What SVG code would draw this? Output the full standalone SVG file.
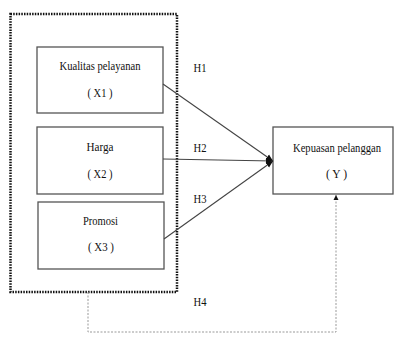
<svg xmlns="http://www.w3.org/2000/svg" width="395" height="338" viewBox="0 0 395 338">
<style>
.box{fill:#fff;stroke:#555;stroke-width:1.3}
.t{font-family:"Liberation Serif","Times New Roman","DejaVu Serif",serif;font-size:12px;fill:#111;text-anchor:middle}
.ln{stroke:#444;stroke-width:1.1;fill:none}
.dash{stroke:#999;stroke-width:1;stroke-dasharray:2 1.5;fill:none}
</style>
<defs>
<marker id="ah" markerWidth="8" markerHeight="8" refX="7" refY="4" orient="auto" markerUnits="userSpaceOnUse">
<path d="M0,1 L7,4 L0,7 Z" fill="#111"/>
</marker>
<marker id="ah2" markerWidth="6" markerHeight="6" refX="5" refY="3" orient="auto" markerUnits="userSpaceOnUse">
<path d="M0,0.5 L5,3 L0,5.5 Z" fill="#111"/>
</marker>
</defs>
<g id="group-x">
<rect x="10.5" y="14" width="166.5" height="278" fill="none" stroke="#111" stroke-width="2.5" stroke-dasharray="1.5 1.2"/>
</g>
<g id="x1">
<rect class="box" x="37" y="47" width="126" height="66"/>
<text class="t" x="100" y="69.5" textLength="81" lengthAdjust="spacingAndGlyphs">Kualitas pelayanan</text>
<text class="t" x="100" y="96.5" textLength="25" lengthAdjust="spacingAndGlyphs">( X1 )</text>
</g>
<g id="x2">
<rect class="box" x="37" y="127" width="126" height="67"/>
<text class="t" x="100" y="150.5" textLength="27" lengthAdjust="spacingAndGlyphs">Harga</text>
<text class="t" x="100" y="177.5" textLength="25" lengthAdjust="spacingAndGlyphs">( X2 )</text>
</g>
<g id="x3">
<rect class="box" x="38" y="202" width="126" height="67"/>
<text class="t" x="100.5" y="224.5" textLength="35" lengthAdjust="spacingAndGlyphs">Promosi</text>
<text class="t" x="101" y="250.5" textLength="26" lengthAdjust="spacingAndGlyphs">( X3 )</text>
</g>
<g id="y">
<rect class="box" x="273" y="127" width="120" height="67"/>
<text class="t" x="337" y="151.5" textLength="88" lengthAdjust="spacingAndGlyphs">Kepuasan pelanggan</text>
<text class="t" x="336.5" y="177.5" textLength="21" lengthAdjust="spacingAndGlyphs">( Y )</text>
</g>
<g id="connectors">
<line class="ln" x1="163" y1="84" x2="273" y2="161" marker-end="url(#ah)"/>
<line class="ln" x1="163" y1="159" x2="273" y2="161" marker-end="url(#ah)"/>
<line class="ln" x1="164" y1="239" x2="273" y2="161" marker-end="url(#ah)"/>
<polyline class="dash" points="88,292 88,332 336,332 336,195" marker-end="url(#ah2)"/>
<text class="t" x="200" y="71.5" textLength="13" lengthAdjust="spacingAndGlyphs">H1</text>
<text class="t" x="200" y="151.5" textLength="13" lengthAdjust="spacingAndGlyphs">H2</text>
<text class="t" x="200" y="202.5" textLength="13" lengthAdjust="spacingAndGlyphs">H3</text>
<text class="t" x="200" y="305.5" textLength="13" lengthAdjust="spacingAndGlyphs">H4</text>
</g>
</svg>
